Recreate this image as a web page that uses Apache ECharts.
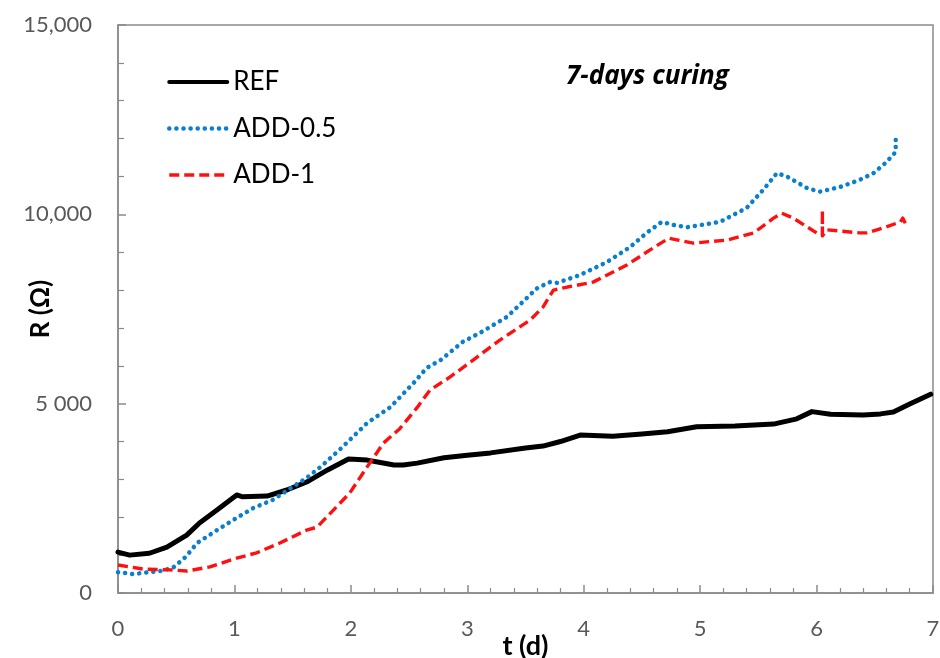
<!DOCTYPE html>
<html>
<head>
<meta charset="utf-8">
<script src="https://cdn.jsdelivr.net/npm/echarts@6/dist/echarts.min.js"></script>
<style>
html,body{margin:0;padding:0;background:#fff;}
#chart{width:940px;height:658px;}
</style>
</head>
<body>
<div id="chart"></div>
<script>
// ---- data (t in days, R in ohm) ----
const seriesNames = ['REF', 'ADD-0.5', 'ADD-1'];

const refT = [0, 0.1, 0.27, 0.42, 0.59, 0.7, 0.85, 1.02, 1.07, 1.28, 1.45, 1.62, 1.8, 1.98, 2.14, 2.23, 2.37, 2.45, 2.57, 2.8, 3.0, 3.2, 3.5, 3.65, 3.8, 3.97, 4.25, 4.5, 4.72, 4.97, 5.3, 5.63, 5.83, 5.96, 6.12, 6.4, 6.55, 6.66, 6.8, 6.98];
const refR = [1080, 1000, 1050, 1210, 1530, 1850, 2190, 2590, 2540, 2560, 2720, 2930, 3250, 3540, 3510, 3460, 3380, 3380, 3430, 3570, 3640, 3700, 3830, 3880, 4000, 4170, 4140, 4200, 4260, 4390, 4410, 4460, 4600, 4790, 4720, 4700, 4730, 4780, 4990, 5250];

const add05T = [0, 0.13, 0.36, 0.47, 0.58, 0.68, 0.85, 0.99, 1.16, 1.33, 1.5, 1.62, 1.74, 1.93, 2.14, 2.34, 2.54, 2.65, 2.77, 2.96, 3.11, 3.34, 3.6, 3.71, 3.77, 3.97, 4.2, 4.4, 4.54, 4.67, 4.77, 4.89, 5.17, 5.4, 5.54, 5.66, 5.75, 5.92, 6.03, 6.2, 6.37, 6.49, 6.6, 6.68, 6.68, 6.68];
const add05R = [550, 500, 580, 660, 950, 1320, 1660, 1930, 2240, 2460, 2800, 3040, 3330, 3860, 4490, 4910, 5550, 5940, 6150, 6630, 6870, 7290, 8050, 8210, 8190, 8400, 8740, 9140, 9510, 9800, 9720, 9660, 9800, 10170, 10640, 11090, 10990, 10690, 10600, 10720, 10910, 11090, 11380, 11650, 11880, 12120];

const add1T = [0, 0.22, 0.45, 0.59, 0.79, 1.02, 1.19, 1.39, 1.62, 1.71, 1.85, 1.99, 2.14, 2.28, 2.42, 2.57, 2.68, 2.85, 3.05, 3.28, 3.54, 3.65, 3.74, 3.86, 4.08, 4.37, 4.57, 4.73, 4.81, 4.94, 5.23, 5.46, 5.63, 5.7, 5.8, 6.0, 6.05, 6.05, 6.05, 6.09, 6.37, 6.43, 6.57, 6.72, 6.74, 6.78];
const add1R = [740, 630, 610, 580, 690, 920, 1060, 1320, 1660, 1740, 2190, 2640, 3330, 3960, 4340, 4900, 5360, 5700, 6150, 6680, 7210, 7550, 8000, 8080, 8210, 8660, 9060, 9370, 9320, 9240, 9320, 9510, 9900, 10030, 9900, 9510, 9450, 10110, 9430, 9590, 9510, 9510, 9640, 9800, 9900, 9660];

const yTickLabels = {0: '0', 5000: '5 000', 10000: '10,000', 15000: '15,000'};
const xTickLabels = ['0', '1', '2', '3', '4', '5', '6', '7'];

const zip = (a, b) => a.map((v, i) => [v, b[i]]);

const FONT = 'Lato, "Open Sans", sans-serif';
const AXIS_COLOR = '#8a8a8a';
const COLORS = ['#000000', '#0a7fd0', '#ff1010'];
const LINE_STYLES = [
  {color: COLORS[0], width: 5, type: 'solid', cap: 'round', join: 'round'},
  {color: COLORS[1], width: 4.5, type: [0.1, 7], cap: 'round', join: 'round'},
  {color: COLORS[2], width: 3.4, type: [10, 5], cap: 'butt', join: 'round'}
];

const chart = echarts.init(document.getElementById('chart'), null, {renderer: 'canvas'});
chart.setOption({
  backgroundColor: '#ffffff',
  animation: false,
  grid: {left: 118, right: 7, top: 25, bottom: 65, containLabel: false, outerBoundsMode: 'none',
         show: true, borderColor: AXIS_COLOR, borderWidth: 1.5, backgroundColor: 'transparent'},
  legend: {
    orient: 'vertical',
    left: 162,
    top: 64,
    itemWidth: 58,
    itemHeight: 26,
    itemGap: 20.5,
    itemStyle: {opacity: 0, borderWidth: 0},
    textStyle: {fontFamily: FONT, fontSize: 26, color: '#000', lineHeight: 26, padding: [0, 0, 0, 1]},
    data: seriesNames.map((n, i) => ({name: n, lineStyle: Object.assign({}, LINE_STYLES[i], {width: i === 0 ? 4 : LINE_STYLES[i].width})}))
  },
  xAxis: {
    type: 'value', min: 0, max: 7, interval: 1,
    name: 't (d)', nameLocation: 'middle', nameGap: 40, nameMoveOverlap: false,
    nameTextStyle: {fontFamily: FONT, fontSize: 27, fontWeight: 'bold', color: '#000'},
    axisLine: {show: true, lineStyle: {color: AXIS_COLOR, width: 1.5}},
    axisTick: {show: true, inside: true, length: 8, lineStyle: {color: AXIS_COLOR, width: 1.5}},
    minorTick: {show: true, splitNumber: 5, length: 5, lineStyle: {color: AXIS_COLOR, width: 1.2}},
    splitLine: {show: false},
    axisLabel: {margin: 25, fontFamily: FONT, fontSize: 22, color: '#595959', formatter: v => xTickLabels[Math.round(v)]}
  },
  yAxis: {
    type: 'value', min: 0, max: 15000, interval: 5000,
    name: 'R (Ω)', nameLocation: 'middle', nameGap: 64, nameRotate: 90, nameMoveOverlap: false,
    nameTextStyle: {fontFamily: FONT, fontSize: 26, fontWeight: 'bold', color: '#000'},
    axisLine: {show: true, lineStyle: {color: AXIS_COLOR, width: 1.5}},
    axisTick: {show: true, inside: true, length: 8, lineStyle: {color: AXIS_COLOR, width: 1.5}},
    minorTick: {show: true, splitNumber: 5, length: 6, lineStyle: {color: AXIS_COLOR, width: 1.2}},
    splitLine: {show: false},
    axisLabel: {margin: 26, fontFamily: FONT, fontSize: 22, color: '#595959', formatter: v => yTickLabels[v]}
  },
  graphic: [{
    type: 'text', left: 566, top: 64,
    style: {text: '7-days curing', font: 'italic bold 26px "Open Sans", Lato, sans-serif', fill: '#000'}
  }],
  series: [
    {name: 'REF', type: 'line', data: zip(refT, refR), showSymbol: false, symbol: 'none',
     lineStyle: LINE_STYLES[0], itemStyle: {color: COLORS[0]}},
    {name: 'ADD-0.5', type: 'line', data: zip(add05T, add05R), showSymbol: false, symbol: 'none',
     lineStyle: LINE_STYLES[1], itemStyle: {color: COLORS[1]}},
    {name: 'ADD-1', type: 'line', data: zip(add1T, add1R), showSymbol: false, symbol: 'none',
     lineStyle: LINE_STYLES[2], itemStyle: {color: COLORS[2]}}
  ]
});
</script>
</body>
</html>
